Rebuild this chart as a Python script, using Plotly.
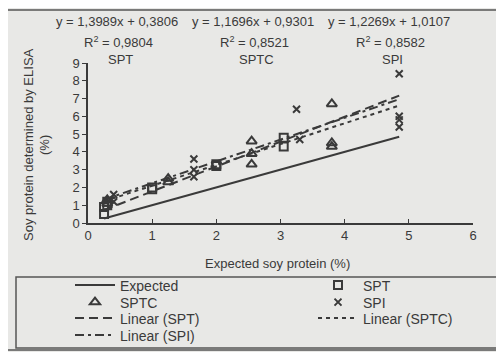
import plotly.graph_objects as go

# ---- data ----
expected_x = [0.25, 4.85]
expected_y = [0.25, 4.85]

spt_x = [0.25, 0.25, 0.3, 0.3, 1.0, 1.0, 2.0, 2.0, 3.05, 3.05]
spt_y = [0.5, 0.9, 1.0, 1.2, 1.9, 2.0, 3.2, 3.3, 4.3, 4.8]

sptc_x = [0.3, 0.3, 1.25, 1.25, 2.55, 2.55, 2.55, 3.8, 3.8, 3.8]
sptc_y = [1.1, 1.3, 2.3, 2.5, 3.3, 3.9, 4.6, 4.3, 4.5, 6.7]

spi_x = [0.35, 0.4, 0.4, 1.65, 1.65, 1.65, 3.25, 3.3, 4.85, 4.85, 4.85, 4.85]
spi_y = [1.3, 1.2, 1.6, 2.6, 3.0, 3.6, 6.4, 4.7, 8.4, 6.0, 5.8, 5.4]

series_names = ["SPT", "SPTC", "SPI"]
slopes = [1.3989, 1.1696, 1.2269]
intercepts = [0.3806, 0.9301, 1.0107]
r2_values = ["0,9804", "0,8521", "0,8582"]
eq_texts = ["y = 1,3989x + 0,3806", "y = 1,1696x + 0,9301", "y = 1,2269x + 1,0107"]
trend_x = [0.25, 4.85]

x_ticks = [0, 1, 2, 3, 4, 5, 6]
y_ticks = [0, 1, 2, 3, 4, 5, 6, 7, 8, 9]

# ---- figure ----
OFF = 8  # page body margin
W, H = 504 - OFF, 352 - OFF
# plot area in reference (window) pixels
X0, X1, Y0, Y1 = 88, 473, 63, 223
L, R, T, B = X0 - OFF, (W + OFF) - X1, Y0 - OFF, (H + OFF) - Y1
pw, ph = X1 - X0, Y1 - Y0

def px(xp):
    return (xp - X0) / pw

def py(yp):
    return (Y1 - yp) / ph

ink = "#3a3a3a"
font = "Liberation Sans, Arial, sans-serif"
FS = 13

# legend slot of each trace (column x of text start, row centre y), window pixels
COL = [70, 313]
ROW = [286, 303, 319, 336]
slots = {
    "Expected": (COL[0], ROW[0]), "SPT": (COL[1], ROW[0]),
    "SPTC": (COL[0], ROW[1]), "SPI": (COL[1], ROW[1]),
    "Linear (SPT)": (COL[0], ROW[2]), "Linear (SPTC)": (COL[1], ROW[2]),
    "Linear (SPI)": (COL[0], ROW[3]),
}
legend_of = {name: ("legend" if i == 0 else f"legend{i + 1}") for i, name in enumerate(slots)}

fig = go.Figure()

fig.add_trace(go.Scatter(x=expected_x, y=expected_y, mode="lines", name="Expected",
                         line=dict(color=ink, width=2), legend=legend_of["Expected"]))
fig.add_trace(go.Scatter(x=spt_x, y=spt_y, mode="markers", name="SPT", legend=legend_of["SPT"],
                         marker=dict(symbol="square-open", size=8, color=ink,
                                     line=dict(width=2, color=ink))))
fig.add_trace(go.Scatter(x=sptc_x, y=sptc_y, mode="markers", name="SPTC", legend=legend_of["SPTC"],
                         marker=dict(symbol="triangle-up-open", size=9, color=ink,
                                     line=dict(width=2, color=ink))))
fig.add_trace(go.Scatter(x=spi_x, y=spi_y, mode="markers", name="SPI", legend=legend_of["SPI"],
                         marker=dict(symbol="x-thin-open", size=7, color=ink,
                                     line=dict(width=2, color=ink))))

dashes = ["9px,5px", "4px,4px", "9px,4px,3px,4px"]
for name, m, c, d in zip(series_names, slopes, intercepts, dashes):
    ty = [m * xv + c for xv in trend_x]
    nm = f"Linear ({name})"
    fig.add_trace(go.Scatter(x=trend_x, y=ty, mode="lines", name=nm,
                             legend=legend_of[nm], line=dict(color=ink, width=2, dash=d)))

def note(x, y, text, angle=0, size=FS):
    fig.add_annotation(x=px(x), y=py(y), xref="paper", yref="paper", text=text,
                       xanchor="center", yanchor="middle", textangle=angle,
                       showarrow=False, font=dict(size=size, color=ink))

# equation annotations
col_centers = [117, 253, 389]
for cx, eq, r2, nm in zip(col_centers, eq_texts, r2_values, series_names):
    note(cx, 22, eq)
    note(cx + 1, 42, f"R<sup>2</sup> = {r2}")
    note(cx + 3, 60, nm)

# axis titles
note(28, 145, "Soy protein determined by ELISA", angle=-90)
note(44, 145, "(%)", angle=-90)
note(277, 263, "Expected soy protein (%)")

shapes = [
    # outer frame
    dict(type="rect", xref="paper", yref="paper", x0=px(6), x1=px(500), y0=py(350), y1=py(10),
         line=dict(color="#555", width=1.5)),
    # legend frame
    dict(type="rect", xref="paper", yref="paper", x0=px(16), x1=px(497), y0=py(348), y1=py(277),
         line=dict(color="#555", width=1.5)),
]

legends = {}
for name, (lx, ly) in slots.items():
    legends[legend_of[name]] = dict(
        x=px(lx), y=py(ly - 16.5), orientation="v", yanchor="top", xanchor="left",
        bgcolor="rgba(0,0,0,0)", font=dict(size=14, color=ink),
        itemwidth=40, tracegroupgap=0)

fig.update_layout(
    width=W, height=H,
    margin=dict(l=L, r=R, t=T, b=B, autoexpand=False),
    paper_bgcolor="#e8e8e6",
    plot_bgcolor="rgba(0,0,0,0)",
    font=dict(family=font, size=FS, color=ink),
    showlegend=True,
    shapes=shapes,
    xaxis=dict(range=[0, 6], tickvals=x_ticks, showgrid=False, zeroline=False,
               showline=True, linecolor=ink, linewidth=1.5, ticks="inside", ticklen=4,
               tickcolor=ink, tickfont=dict(size=FS, color=ink)),
    yaxis=dict(range=[0, 9], tickvals=y_ticks, showgrid=False, zeroline=False,
               showline=True, linecolor=ink, linewidth=1.5, ticks="outside", ticklen=4,
               tickcolor=ink, tickfont=dict(size=FS, color=ink)),
    **legends,
)

fig.write_html("out.html")
